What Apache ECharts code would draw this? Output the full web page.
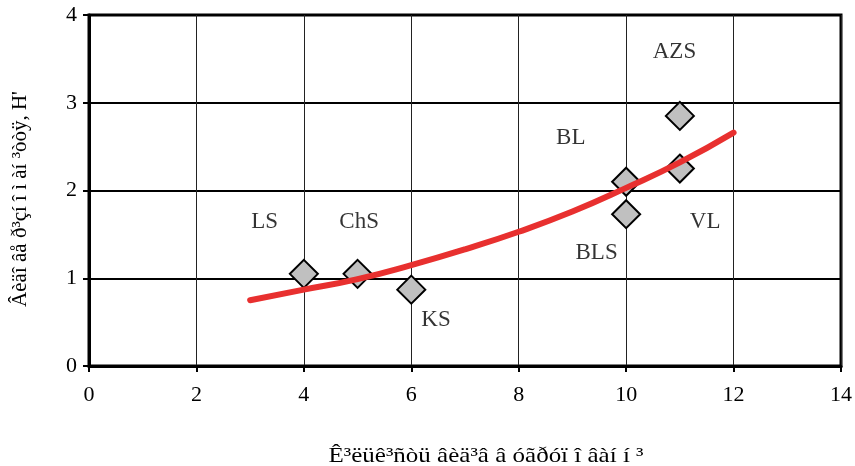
<!DOCTYPE html>
<html>
<head>
<meta charset="utf-8">
<script src="https://cdn.jsdelivr.net/npm/echarts@6/dist/echarts.min.js"></script>
<style>
  html, body { margin: 0; padding: 0; background: #fff; }
  #chart { width: 855px; height: 466px; }
</style>
</head>
<body>
<div id="chart"></div>
<script>
// Observed communities: number of species vs Shannon diversity
const siteX = [4, 5, 6, 10, 10, 11, 11];
const siteY = [1.05, 1.05, 0.87, 2.10, 1.73, 2.25, 2.85];

// Trend curve read along its course
const trendX = [3, 4, 5, 6, 7, 8, 9, 10, 11, 12];
const trendY = [0.75, 0.87, 0.99, 1.15, 1.33, 1.53, 1.76, 2.03, 2.32, 2.66];

// Community labels and their anchor positions in data units
const labelNames = ['LS', 'ChS', 'KS', 'BL', 'BLS', 'AZS', 'VL'];
const labelX = [3.27, 5.03, 6.46, 8.97, 9.45, 10.9, 11.47];
const labelY = [1.64, 1.64, 0.52, 2.60, 1.29, 3.58, 1.64];

const xTitle = 'Ê³ëüê³ñòü âèä³â â óãðóï î âàí í ³';
const yTitle = 'Âèäî âå ð³çí î ì àí ³òòÿ, H\'';

const FONT = '"Liberation Serif", "Times New Roman", serif';

const chart = echarts.init(document.getElementById('chart'), null, { renderer: 'canvas' });

chart.setOption({
  animation: false,
  backgroundColor: '#fff',
  grid: {
    left: 89, right: 12, top: 15, bottom: 100,
    show: true, borderColor: '#000', borderWidth: 3, backgroundColor: 'transparent'
  },
  xAxis: {
    type: 'value', min: 0, max: 14, interval: 2,
    axisLine: { show: true, onZero: false, lineStyle: { color: '#000', width: 3 } },
    axisTick: { show: true, length: 6, lineStyle: { color: '#000', width: 2 } },
    axisLabel: { color: '#000', fontFamily: FONT, fontSize: 22, margin: 18 },
    splitLine: { show: true, lineStyle: { color: '#222', width: 1 } }
  },
  yAxis: {
    type: 'value', min: 0, max: 4, interval: 1,
    axisLine: { show: true, onZero: false, lineStyle: { color: '#000', width: 3 } },
    axisTick: { show: true, length: 6, lineStyle: { color: '#000', width: 2 } },
    axisLabel: { color: '#000', fontFamily: FONT, fontSize: 22, margin: 12 },
    splitLine: { show: true, lineStyle: { color: '#000', width: 2 } }
  },
  graphic: [
    {
      type: 'text', x: 486, y: 456, scaleX: 1.19,
      style: {
        text: xTitle, fontSize: 21, fontFamily: FONT, fill: '#000',
        textAlign: 'center', textVerticalAlign: 'middle'
      }
    },
    {
      type: 'text', x: 20, y: 199, rotation: Math.PI / 2,
      style: {
        text: yTitle, fontSize: 21, fontFamily: FONT, fill: '#000',
        textAlign: 'center', textVerticalAlign: 'middle'
      }
    }
  ],
  series: [
    {
      type: 'line',
      data: trendX.map((x, i) => [x, trendY[i]]),
      smooth: true,
      symbol: 'none',
      lineStyle: { color: '#e8302f', width: 6, cap: 'round' },
      z: 3
    },
    {
      type: 'scatter',
      data: siteX.map((x, i) => [x, siteY[i]]),
      symbol: 'diamond',
      symbolSize: [28, 28],
      itemStyle: { color: '#c0c0c0', borderColor: '#000', borderWidth: 2, opacity: 1 },
      z: 2
    },
    {
      type: 'scatter',
      data: labelX.map((x, i) => [x, labelY[i], labelNames[i]]),
      symbolSize: 0,
      label: {
        show: true, position: 'inside',
        formatter: p => p.data[2],
        color: '#000', fontFamily: FONT, fontSize: 23
      },
      z: 4
    }
  ]
});
</script>
</body>
</html>
